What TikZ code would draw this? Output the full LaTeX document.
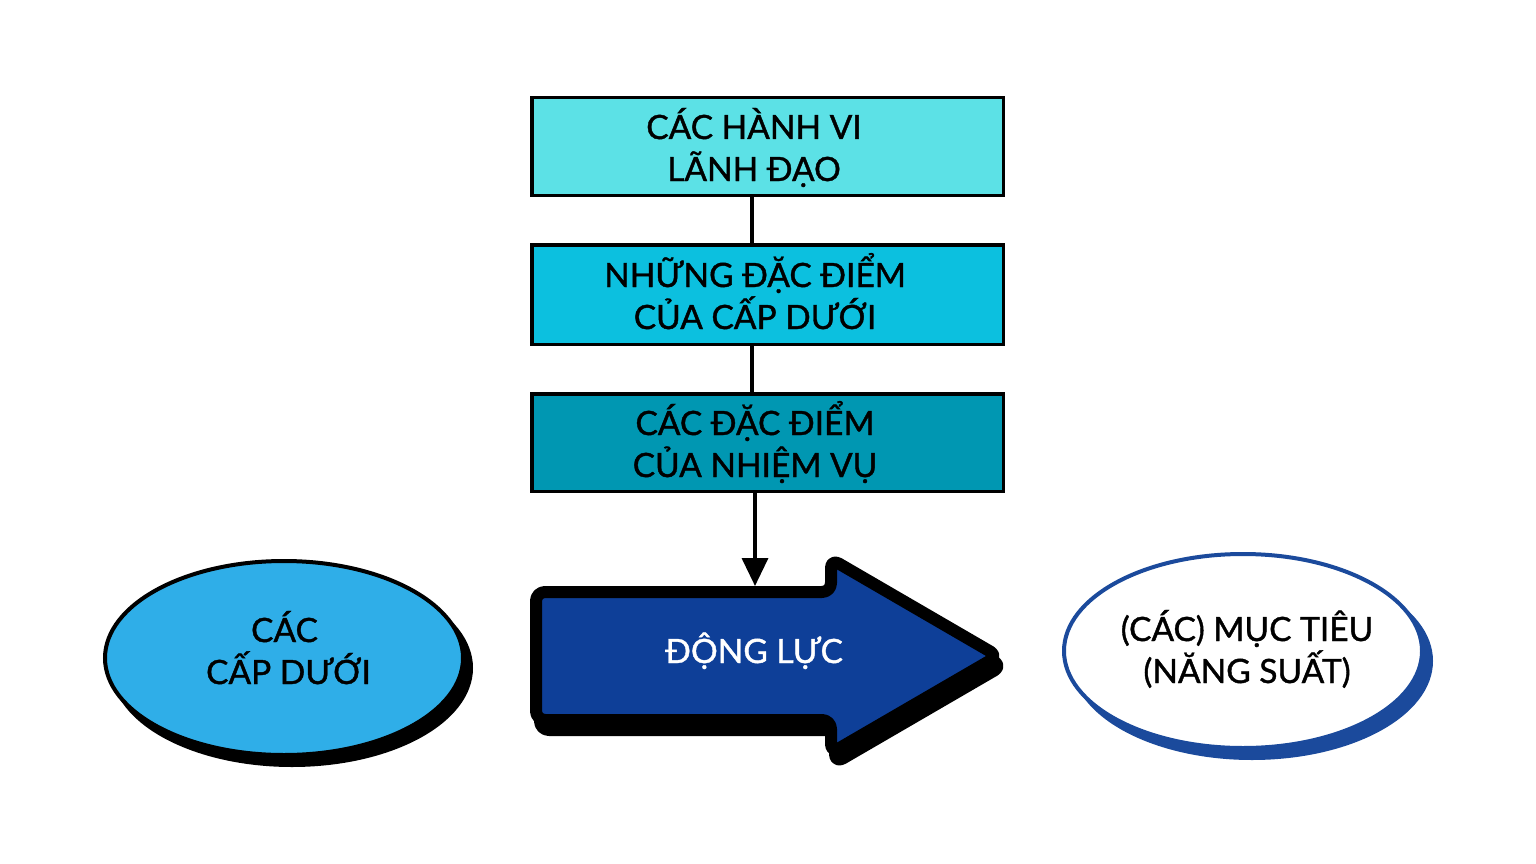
\documentclass[tikz,border=0pt]{standalone}
\usepackage{fontspec}
\setmainfont{Lato}[FakeBold=1.2]
\usetikzlibrary{arrows.meta,shapes.geometric}
\definecolor{boxA}{HTML}{5CE1E6}
\definecolor{boxB}{HTML}{0CC0DF}
\definecolor{boxC}{HTML}{0097B2}
\definecolor{ellL}{HTML}{2FAEE8}
\definecolor{arrowBlue}{HTML}{0E3F98}
\definecolor{ringBlue}{HTML}{1B4A9C}
\begin{document}
\begin{tikzpicture}[x=1pt,y=-1pt,
  stepbox/.style={draw=black,line width=3.5pt,minimum width=471.5pt,inner sep=0pt},
  lbl/.style={font=\fontsize{33.5}{40}\selectfont,anchor=base,inner sep=0pt,text=black},
  link/.style={line width=3.5pt,draw=black}]
\path[use as bounding box,fill=white] (0,0) rectangle (1536,864);

% boxes
\node[stepbox,fill=boxA,minimum height=97.5pt] (b1) at (767.5,146.5) {};
\node[stepbox,fill=boxB,minimum height=99.5pt] (b2) at (767.5,294.5) {};
\node[stepbox,fill=boxC,minimum height=97.5pt] (b3) at (767.5,442.5) {};

\node[lbl] (t1a) at (754,139) {CÁC HÀNH VI};
\node[lbl] (t1b) at (754,181) {LÃNH ĐẠO};
\node[lbl] (t2a) at (755,287) {NHỮNG ĐẶC ĐIỂM};
\node[lbl] (t2b) at (755,329) {CỦA CẤP DƯỚI};
\node[lbl] (t3a) at (755,435) {CÁC ĐẶC ĐIỂM};
\node[lbl] (t3b) at (755,477) {CỦA NHIỆM VỤ};

% connectors
\coordinate (x1) at (752,0);
\coordinate (x2) at (755,0);
\draw[link] (x1 |- b1.south) -- (x1 |- b2.north);
\draw[link] (x1 |- b2.south) -- (x1 |- b3.north);
\coordinate (mt) at (755,586);
\draw[link,-{Triangle[width=26pt,length=28pt]}] (x2 |- b3.south) -- (mt);

% big arrow: shadow then body
\draw[black,fill=black,line width=12pt,line join=round,rounded corners=9pt,shift={(4,10)}]
  (536,592) -- (831,592) -- (831,559) -- (998,656) -- (831,753) -- (831,720) -- (536,720) -- cycle;
\draw[black,fill=arrowBlue,line width=12pt,line join=round,rounded corners=9pt]
  (536,592) -- (831,592) -- (831,559) -- (998,656) -- (831,753) -- (831,720) -- (536,720) -- cycle;
\node[lbl,text=white] (tm) at (754,663) {ĐỘNG LỰC};

% left ellipse
\draw[black,fill=black,line width=4pt] (292,668) ellipse [x radius=179pt, y radius=97pt];
\node[ellipse,draw=black,fill=ellL,line width=4pt,minimum width=358pt,minimum height=194pt,inner sep=0pt] (e1) at (284,658) {};
\node[lbl] (e1a) at (284.5,642) {CÁC};
\node[lbl] (e1b) at (288.5,684) {CẤP DƯỚI};

% right ellipse
\draw[ringBlue,fill=ringBlue,line width=4pt] (1252,661) ellipse [x radius=179pt, y radius=97pt];
\node[ellipse,draw=ringBlue,fill=white,line width=4pt,minimum width=358pt,minimum height=194pt,inner sep=0pt] (e2) at (1243,651) {};
\node[lbl] (e2a) at (1247,641) {(CÁC) MỤC TIÊU};
\node[lbl] (e2b) at (1247,683) {(NĂNG SUẤT)};
\end{tikzpicture}
\end{document}
